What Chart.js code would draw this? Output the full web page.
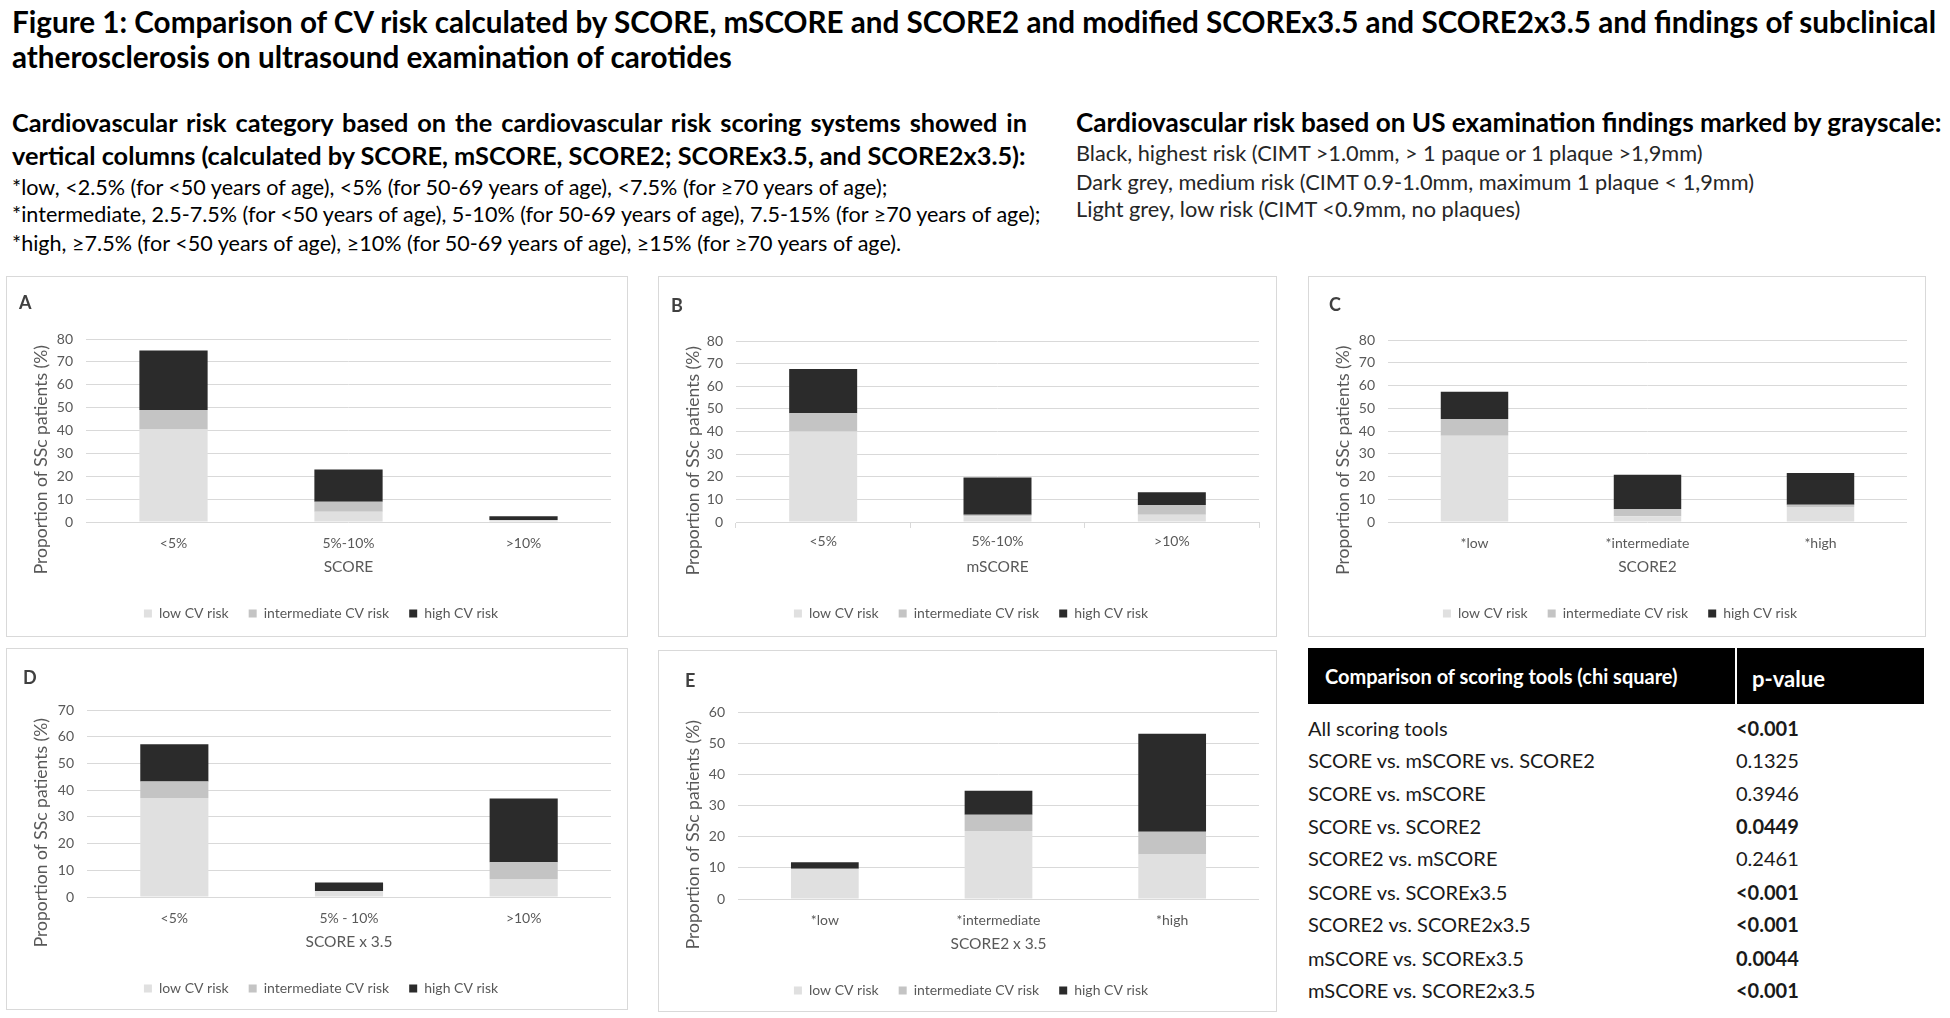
<!DOCTYPE html>
<html><head><meta charset="utf-8">
<script src="https://cdn.jsdelivr.net/npm/chart.js@4.4.0/dist/chart.umd.min.js"></script>
<style>
html,body{margin:0;padding:0;background:#fff;}
body{width:1950px;height:1018px;position:relative;overflow:hidden;font-family:Lato,"Noto Sans",sans-serif;}
.t{position:absolute;white-space:nowrap;line-height:1.15;}
.panel{position:absolute;outline:1px solid #d9d9d9;outline-offset:-1px;background:#fff;}
.panel .lbl{position:absolute;font-weight:bold;color:#404040;font-size:18px;line-height:1;}
.panel canvas{position:absolute;left:0;top:0;}
.hdr{position:absolute;background:#000;color:#fff;font-weight:bold;}
</style></head><body>
<script>
// ---------------- DATA ----------------
const categoriesScore = ['<5%', '5%-10%', '>10%'];
const categoriesScore35 = ['<5%', '5% - 10%', '>10%'];
const categoriesScore2 = ['*low', '*intermediate', '*high'];
const seriesNames = ['low CV risk', 'intermediate CV risk', 'high CV risk'];

// A: SCORE
const scoreLow  = [40.4, 4.5, 0.9];
const scoreMid  = [8.6, 4.3, 0];
const scoreHigh = [26.0, 14.2, 1.6];
// B: mSCORE
const mscoreLow  = [40.0, 2.5, 3.2];
const mscoreMid  = [8.1, 0.7, 4.3];
const mscoreHigh = [19.5, 16.5, 5.6];
// C: SCORE2
const score2Low  = [37.9, 2.5, 6.6];
const score2Mid  = [7.4, 3.2, 1.0];
const score2High = [12.0, 15.1, 13.9];
// D: SCORE x 3.5
const score35Low  = [37.1, 2.2, 6.7];
const score35Mid  = [6.1, 0, 6.3];
const score35High = [14.0, 3.2, 23.9];
// E: SCORE2 x 3.5
const score235Low  = [9.7, 21.8, 14.3];
const score235Mid  = [0, 5.2, 7.3];
const score235High = [2.1, 7.7, 31.4];

const yAxisMax = {A: 80, B: 80, C: 80, D: 70, E: 60};
const xAxisTitles = {A: 'SCORE', B: 'mSCORE', C: 'SCORE2', D: 'SCORE x 3.5', E: 'SCORE2 x 3.5'};
const yAxisTitle = 'Proportion of SSc patients (%)';

const comparisons = ['All scoring tools', 'SCORE vs. mSCORE vs. SCORE2', 'SCORE vs. mSCORE', 'SCORE vs. SCORE2',
  'SCORE2 vs. mSCORE', 'SCORE vs. SCOREx3.5', 'SCORE2 vs. SCORE2x3.5', 'mSCORE vs. SCOREx3.5', 'mSCORE vs. SCORE2x3.5'];
const pValues = ['<0.001', '0.1325', '0.3946', '0.0449', '0.2461', '<0.001', '<0.001', '0.0044', '<0.001'];

// ---------------- TEXT ----------------
const FONT = 'Lato';
const mc = document.createElement('canvas').getContext('2d');
function measure(str, size, bold){ mc.font = (bold?'bold ':'') + size + 'px ' + FONT; return mc.measureText(str).width; }
function fitSize(str, target, bold){ return 20 * target / measure(str, 20, bold); }
function addText(str, left, cy, size, opts){
  opts = opts || {};
  const d = document.createElement('div');
  d.className = 't';
  d.textContent = str;
  d.style.left = left + 'px';
  d.style.fontSize = size + 'px';
  d.style.fontWeight = opts.bold ? 'bold' : 'normal';
  d.style.color = opts.color || '#000';
  if (opts.justifyWidth){ d.style.width = opts.justifyWidth + 'px'; d.style.whiteSpace='normal'; d.style.textAlign='justify'; d.style.textAlignLast='justify'; }
  (opts.parent || document.body).appendChild(d);
  d.style.top = (cy - d.offsetHeight/2) + 'px';
  return d;
}

const title1 = 'Figure 1: Comparison of CV risk calculated by SCORE, mSCORE and SCORE2 and modified SCOREx3.5 and SCORE2x3.5 and findings of subclinical';
const title2 = 'atherosclerosis on ultrasound examination of carotides';
const ts = fitSize(title1, 1928, true);
addText(title1, 12, 22, ts, {bold:true});
addText(title2, 12, 57, ts, {bold:true});

const lh1 = 'Cardiovascular risk category based on the cardiovascular risk scoring systems showed in';
const lh2 = 'vertical columns (calculated by SCORE, mSCORE, SCORE2; SCOREx3.5, and SCORE2x3.5):';
const lhs = fitSize(lh2, 1015, true);
addText(lh1, 12, 122, lhs, {bold:true, justifyWidth:1015});
addText(lh2, 12, 155, lhs, {bold:true});

const ln = ['*low, <2.5% (for <50 years of age), <5% (for 50-69 years of age), <7.5% (for ≥70 years of age);',
  '*intermediate, 2.5-7.5% (for <50 years of age), 5-10% (for 50-69 years of age), 7.5-15% (for ≥70 years of age);',
  '*high, ≥7.5% (for <50 years of age), ≥10% (for 50-69 years of age), ≥15% (for ≥70 years of age).'];
const lns = fitSize(ln[1], 1033, false);
[187, 214, 243].forEach((cy,i)=>addText(ln[i], 12, cy, lns));

const rh = 'Cardiovascular risk based on US examination findings marked by grayscale:';
addText(rh, 1076, 122, fitSize(rh, 867, true), {bold:true});
const rl = ['Black, highest risk (CIMT >1.0mm, > 1 paque or 1 plaque >1,9mm)',
  'Dark grey, medium risk (CIMT 0.9-1.0mm, maximum 1 plaque < 1,9mm)',
  'Light grey, low risk (CIMT <0.9mm, no plaques)'];
const rls = fitSize(rl[1], 679, false);
[153, 182, 209].forEach((cy,i)=>addText(rl[i], 1076, cy, rls, {color:'#262626'}));

// ---------------- TABLE ----------------
const h1 = document.createElement('div'); h1.className='hdr';
Object.assign(h1.style,{left:'1308px',top:'648px',width:'427px',height:'56px'}); document.body.appendChild(h1);
const h2 = document.createElement('div'); h2.className='hdr';
Object.assign(h2.style,{left:'1737px',top:'648px',width:'187px',height:'56px'}); document.body.appendChild(h2);
const th1 = 'Comparison of scoring tools (chi square)';
addText(th1, 1325, 676, fitSize(th1, 353, true), {bold:true, color:'#fff'});
addText('p-value', 1752, 678, fitSize('p-value', 73, true), {bold:true, color:'#fff'});
const rowS = fitSize(comparisons[1], 288, false);
const rowY = [728, 760, 793, 826, 858, 892, 924, 958, 990];
comparisons.forEach((c,i)=>{
  addText(c, 1308, rowY[i], rowS, {color:'#1a1a1a'});
  const p = pValues[i];
  const sig = p.startsWith('<') || parseFloat(p) < 0.05;
  addText(p, 1736, rowY[i], rowS, {color:'#1a1a1a', bold:sig});
});

// ---------------- CHARTS ----------------
const yTitlePlugin = {
  id:'yTitle',
  afterDraw(chart, args, opts){
    const {ctx, chartArea, scales} = chart;
    ctx.save();
    ctx.font = '17.5px ' + FONT; ctx.fillStyle = '#595959';
    ctx.textAlign='center'; ctx.textBaseline='middle';
    ctx.translate(opts.x, (chartArea.top + scales.x.bottom)/2 - 3);
    ctx.rotate(-Math.PI/2);
    ctx.fillText(opts.text, 0, 0);
    ctx.restore();
  }
};

const panels = [
  {id:'A', box:[6,276,622,361], plot:[86,611,339,522], lbl:[13,26], cats:categoriesScore, sets:[scoreLow,scoreMid,scoreHigh], axisLine:false},
  {id:'B', box:[658,276,619,361], plot:[736,1259,341,522], lbl:[13,29], cats:categoriesScore, sets:[mscoreLow,mscoreMid,mscoreHigh], axisLine:true},
  {id:'C', box:[1308,276,618,361], plot:[1388,1907,340,522], lbl:[21,28], cats:categoriesScore2, sets:[score2Low,score2Mid,score2High], axisLine:false},
  {id:'D', box:[6,648,622,362], plot:[87,611,710,897], lbl:[17,29], cats:categoriesScore35, sets:[score35Low,score35Mid,score35High], axisLine:false},
  {id:'E', box:[658,650,619,362], plot:[738,1259,712,899], lbl:[27,30], cats:categoriesScore2, sets:[score235Low,score235Mid,score235High], axisLine:false}
];
const colors = ['#e0e0e0', '#c4c4c4', '#2b2b2b'];
const X_H = 64.5, LEG_PAD = 20, LEG_FONT = 14, PAD_LEFT = 25;

Chart.defaults.font.family = FONT;
panels.forEach(p=>{
  const [bx,by,bw,bh] = p.box; const [pl,pr,pt,pb] = p.plot;
  const div = document.createElement('div'); div.className='panel';
  Object.assign(div.style,{left:bx+'px',top:by+'px',width:bw+'px',height:bh+'px'});
  document.body.appendChild(div);
  const cv = document.createElement('canvas'); cv.width = bw; cv.height = bh; div.appendChild(cv);
  const lbl = document.createElement('div'); lbl.className='lbl'; lbl.textContent = p.id;
  lbl.style.left = p.lbl[0]+'px'; div.appendChild(lbl); lbl.style.top = (p.lbl[1]-lbl.offsetHeight/2)+'px';
  const legendH = LEG_FONT + LEG_PAD + 10;
  const padBottom = (by+bh) - pb - X_H - legendH;
  new Chart(cv, {
    type:'bar',
    data:{labels:p.cats, datasets:p.sets.map((d,i)=>({label:seriesNames[i], data:d, backgroundColor:colors[i], borderWidth:0}))},
    options:{
      responsive:false, animation:false, devicePixelRatio:1,
      layout:{padding:{top:pt-by, right:(bx+bw)-pr, bottom:padBottom, left:PAD_LEFT}},
      datasets:{bar:{barPercentage:0.39, categoryPercentage:1}},
      plugins:{
        legend:{position:'bottom', labels:{boxWidth:8, boxHeight:8, padding:LEG_PAD, color:'#595959', font:{size:LEG_FONT}}},
        tooltip:{enabled:false},
        yTitle:{text:yAxisTitle, x:35}
      },
      scales:{
        x:{stacked:true,
           grid:{display:p.axisLine, drawOnChartArea:false, tickLength:6, color:'#d9d9d9'},
           border:{display:p.axisLine, color:'#d9d9d9'},
           ticks:{color:'#595959', font:{size:14}, padding:p.axisLine?5:7},
           title:{display:true, text:xAxisTitles[p.id], color:'#595959', font:{size:15.5}, padding:{top:0, bottom:10}},
           afterFit(s){ s.height = X_H; }},
        y:{stacked:true, min:0, max:yAxisMax[p.id],
           ticks:{stepSize:10, color:'#595959', font:{size:14}, padding:13},
           grid:{color:'#d9d9d9', drawTicks:false},
           border:{display:false},
           afterFit(s){ s.width = pl - bx - PAD_LEFT; }}
      }
    },
    plugins:[yTitlePlugin]
  });
});
</script>
</body></html>
